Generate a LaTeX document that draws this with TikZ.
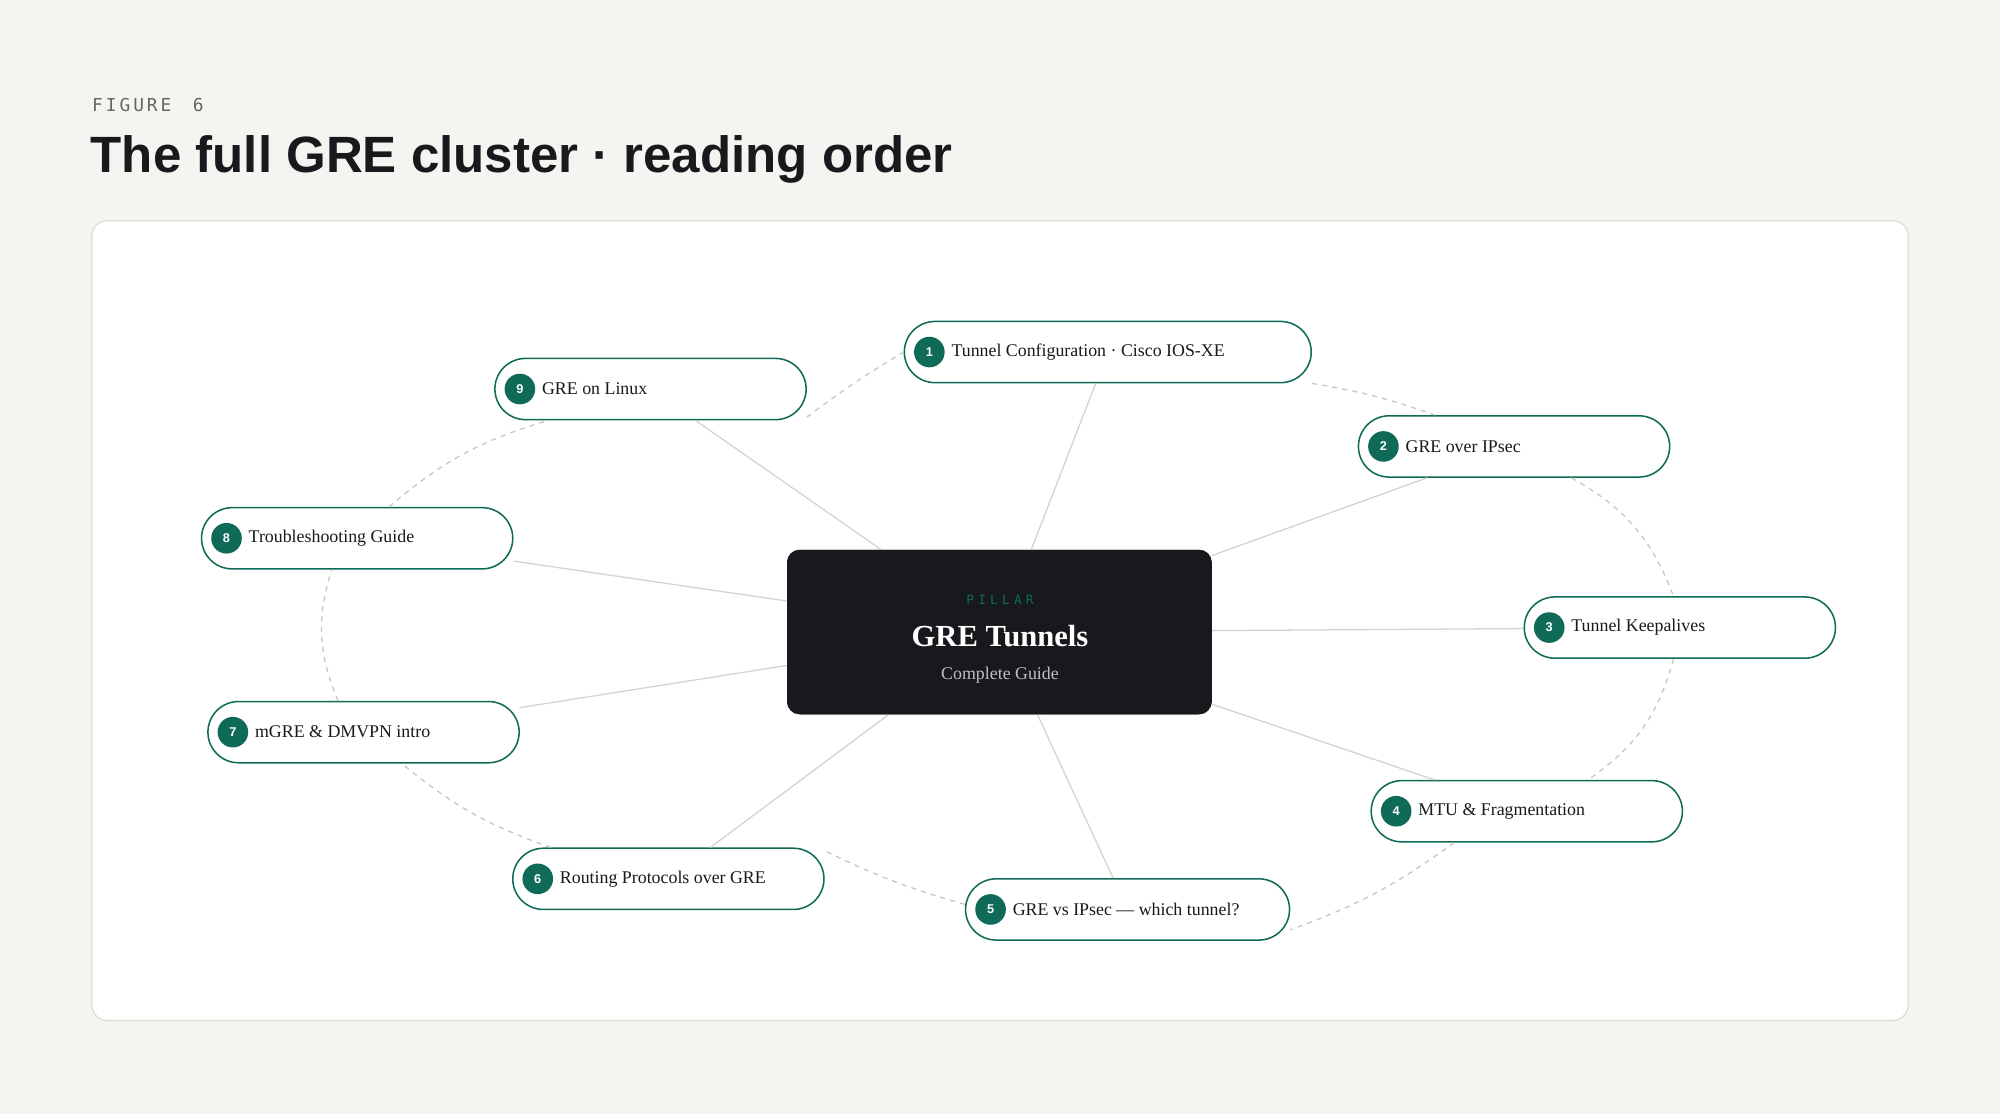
\documentclass[tikz,border=0pt]{standalone}
\usepackage{fontspec}
\setmainfont{Liberation Serif}
\setsansfont{Liberation Sans}
\setmonofont{DejaVu Sans Mono}
\usetikzlibrary{positioning,calc}
\definecolor{bg}{HTML}{F5F4F1}
\definecolor{teal}{HTML}{0F6B57}
\definecolor{ink}{HTML}{18191D}
\definecolor{spoke}{HTML}{D6D3CC}
\definecolor{ring}{HTML}{C9C6BF}
\definecolor{frame}{HTML}{DEDBD5}

% pill node: name, x, y, width, number, text
\newcommand{\pill}[6]{%
  \node[pillbox, minimum width=#4] (#1) at (#2,#3) {};
  \node[badge, right=8pt of #1.west, anchor=west] (#1b) {#5};
  \node[pilltext, right=5pt of #1b] (#1t) {#6};
}

\begin{document}
\begin{tikzpicture}[x=1pt,y=-1pt,
  pillbox/.style={rectangle, rounded corners=24pt, draw=teal, line width=1.2pt, fill=white, minimum height=48pt, inner sep=0pt},
  badge/.style={circle, fill=teal, text=white, minimum size=24pt, inner sep=0pt, font=\sffamily\bfseries\fontsize{10}{10}\selectfont},
  pilltext/.style={inner sep=0pt, font=\fontsize{14}{16}\selectfont, text=ink},
  connect/.style={spoke, line width=1pt},
  order/.style={ring, line width=1pt, dash pattern=on 4pt off 4pt}]
\useasboundingbox (0,0) rectangle (1568,873);
\fill[bg] (0,0) rectangle (1568,873);
\node[anchor=west, inner sep=0pt, text=black!60, font=\ttfamily\fontsize{14}{14}\selectfont] (fig) at (72,82) {F\,I\,G\,U\,R\,E\ \ 6};
\node[anchor=west, inner sep=0pt, text=ink, font=\sffamily\bfseries\fontsize{40}{40}\selectfont] (title) at (71,125) {The full GRE cluster · reading order};
\draw[frame, fill=white, rounded corners=12pt, line width=1pt] (72,173) rectangle (1496,800);

% center
\node[rectangle, rounded corners=10pt, fill=ink, minimum width=333pt, minimum height=129pt] (pillar) at (783.5,495.5) {};
\node[text=teal, font=\ttfamily\fontsize{10}{10}\selectfont] (ptag) at (784,470) {P\,\,I\,\,L\,\,L\,\,A\,\,R};
\node[text=white, font=\bfseries\fontsize{24}{24}\selectfont] (ptitle) at (784,499) {GRE Tunnels};
\node[text=black!25, font=\fontsize{14}{14}\selectfont] (psub) at (784,529) {Complete Guide};

% articles
\pill{n1}{868.5}{276}{319pt}{1}{Tunnel Configuration · Cisco IOS-XE}
\pill{n2}{1187}{350}{244pt}{2}{GRE over IPsec}
\pill{n3}{1317}{492}{244pt}{3}{Tunnel Keepalives}
\pill{n4}{1197}{636}{244pt}{4}{MTU \& Fragmentation}
\pill{n5}{884}{713}{254pt}{5}{GRE vs IPsec — which tunnel?}
\pill{n6}{524}{689}{244pt}{6}{Routing Protocols over GRE}
\pill{n7}{285}{574}{244pt}{7}{mGRE \& DMVPN intro}
\pill{n8}{280}{422}{244pt}{8}{Troubleshooting Guide}
\pill{n9}{510}{305}{244pt}{9}{GRE on Linux}

% spokes
\begin{scope}[on background layer/.style={}]
\end{scope}
\foreach \n in {n1,n2,n3,n4,n5,n6,n7,n8,n9}
  \draw[connect] (pillar) -- (\n);
\node[rectangle, rounded corners=10pt, fill=ink, minimum width=333pt, minimum height=129pt] (pillarcover) at (pillar) {};
\node[text=teal, font=\ttfamily\fontsize{10}{10}\selectfont] at (ptag) {P\,\,I\,\,L\,\,L\,\,A\,\,R};
\node[text=white, font=\bfseries\fontsize{24}{24}\selectfont] at (ptitle) {GRE Tunnels};
\node[text=black!25, font=\fontsize{14}{14}\selectfont] at (psub) {Complete Guide};

% reading order
\draw[order] (n1.south east) to[bend left=5] ([xshift=-62pt]n2.north);
\draw[order] ([xshift=45pt]n2.south) to[bend left=20] ([xshift=-5pt]n3.north);
\draw[order] ([xshift=-5pt]n3.south) to[bend left=20] ([xshift=48pt]n4.north);
\draw[order] ([xshift=-57pt]n4.south) to[bend left=8] ([yshift=-16pt]n5.east);
\draw[order] ([yshift=4pt]n5.west) to[bend left=5] ([yshift=22pt]n6.east);
\draw[order] ([xshift=-92pt]n6.north) to[bend left=10] ([xshift=30pt]n7.south);
\draw[order] ([xshift=-20pt]n7.north) to[bend left=20] ([xshift=-20pt]n8.south);
\draw[order] ([xshift=25pt]n8.north) to[bend left=12] ([xshift=-80pt]n9.south);
\draw[order] ([yshift=-22pt]n9.east) to[bend left=3] (n1.west);
\end{tikzpicture}
\end{document}
